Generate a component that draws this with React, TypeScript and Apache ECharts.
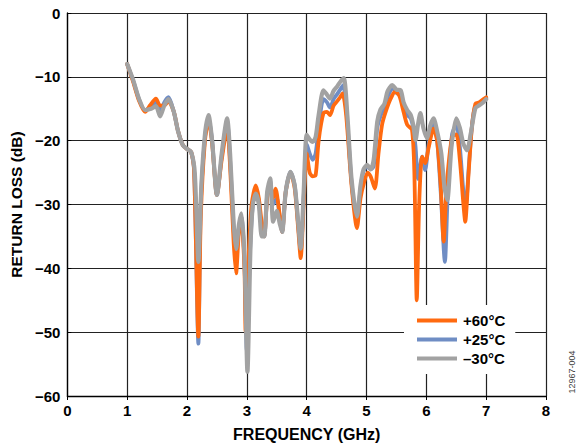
import React, { useEffect, useRef } from "react";
import * as echarts from "echarts";

const xTicks = [0, 1, 2, 3, 4, 5, 6, 7, 8];
const yTicks = [0, -10, -20, -30, -40, -50, -60];

const seriesNames = ["+60°C", "+25°C", "–30°C"];

const freq60 = [1.0, 1.1, 1.2, 1.3, 1.38, 1.48, 1.55, 1.62, 1.69, 1.78, 1.85, 1.93, 2.0, 2.07, 2.12, 2.19, 2.23, 2.3, 2.36, 2.42, 2.5, 2.58, 2.67, 2.72, 2.78, 2.82, 2.87, 2.91, 2.96, 2.98, 3.03, 3.08, 3.15, 3.2, 3.25, 3.29, 3.34, 3.39, 3.44, 3.48, 3.54, 3.59, 3.65, 3.73, 3.8, 3.86, 3.9, 3.95, 4.0, 4.05, 4.1, 4.15, 4.2, 4.28, 4.34, 4.39, 4.45, 4.51, 4.56, 4.6, 4.66, 4.75, 4.84, 4.9, 4.96, 5.02, 5.07, 5.14, 5.2, 5.26, 5.32, 5.4, 5.48, 5.55, 5.62, 5.68, 5.76, 5.8, 5.84, 5.88, 5.93, 5.98, 6.04, 6.12, 6.18, 6.24, 6.29, 6.34, 6.43, 6.5, 6.56, 6.62, 6.65, 6.7, 6.76, 6.82, 6.88, 6.95, 7.0];
const rl60 = [-8, -10.8, -13.8, -15.5, -14.5, -13.4, -14.5, -14.5, -13.8, -15.5, -18.5, -20.7, -21.3, -21.8, -25, -50.7, -32, -20, -16.8, -20.5, -28.5, -23, -18, -24, -36, -40.8, -34, -33, -40, -49.9, -38, -30, -27, -29, -33, -35, -29, -27, -29, -27.5, -31, -34.3, -28, -25, -27.5, -34, -38.4, -30, -22, -25, -25.6, -25.4, -20, -15.7, -15.5, -16, -14.5, -13.8, -13.2, -12.6, -16, -27, -33.7, -29, -26.5, -25, -25.6, -27.5, -22, -17.5, -15.5, -13.5, -12.3, -13, -15.5, -17.5, -18.3, -25, -45, -30, -22.5, -23.5, -21, -18.1, -20, -27, -35.8, -27, -19.4, -19, -23, -30, -32.7, -26, -18, -14.2, -14, -13.5, -13.2];

const freq25 = [1.0, 1.1, 1.2, 1.3, 1.4, 1.48, 1.55, 1.62, 1.69, 1.78, 1.85, 1.93, 2.0, 2.07, 2.12, 2.19, 2.23, 2.3, 2.36, 2.42, 2.5, 2.58, 2.67, 2.72, 2.78, 2.82, 2.87, 2.91, 2.96, 3.0, 3.05, 3.1, 3.15, 3.2, 3.25, 3.29, 3.34, 3.39, 3.44, 3.5, 3.55, 3.59, 3.65, 3.73, 3.8, 3.86, 3.9, 3.95, 4.0, 4.05, 4.1, 4.15, 4.2, 4.28, 4.34, 4.39, 4.45, 4.51, 4.56, 4.61, 4.67, 4.75, 4.84, 4.9, 4.95, 5.01, 5.07, 5.12, 5.18, 5.24, 5.3, 5.36, 5.44, 5.5, 5.57, 5.62, 5.68, 5.74, 5.78, 5.82, 5.86, 5.93, 5.98, 6.04, 6.12, 6.18, 6.24, 6.31, 6.36, 6.43, 6.5, 6.56, 6.62, 6.66, 6.71, 6.77, 6.82, 6.88, 6.95, 7.0];
const rl25 = [-8, -10.6, -13.6, -15.3, -14.6, -14, -15.5, -14, -13.2, -15.5, -18.5, -20.7, -21.3, -21.8, -25, -51.8, -30, -19.5, -16.3, -20, -28.5, -22.5, -17, -23, -34, -38.5, -33.5, -32, -39, -53, -38, -30, -27.8, -29.5, -34, -35, -28.5, -26.3, -30, -29, -32, -34.3, -28, -24.9, -27, -33.5, -37.5, -29, -20.5, -22, -23, -22, -18, -13.5, -14, -14.8, -13.5, -12.7, -12, -11.3, -16, -26.5, -32.8, -27.5, -24.8, -24, -24.5, -24, -18, -16, -14.8, -13, -11.8, -12.5, -13, -15, -16, -16.5, -18, -21, -26, -22.5, -24.6, -20.5, -17.3, -20, -28, -39, -28, -19, -17.5, -21, -28, -30, -24, -17, -14.5, -14.2, -13.7, -13.3];

const freqM30 = [1.0, 1.1, 1.2, 1.3, 1.4, 1.48, 1.55, 1.62, 1.69, 1.78, 1.85, 1.93, 2.0, 2.07, 2.13, 2.19, 2.24, 2.3, 2.36, 2.42, 2.5, 2.58, 2.67, 2.72, 2.78, 2.82, 2.87, 2.91, 2.96, 3.01, 3.06, 3.1, 3.15, 3.2, 3.25, 3.29, 3.34, 3.39, 3.44, 3.5, 3.55, 3.59, 3.65, 3.73, 3.8, 3.86, 3.9, 3.95, 4.0, 4.05, 4.1, 4.15, 4.2, 4.28, 4.34, 4.39, 4.45, 4.51, 4.56, 4.62, 4.68, 4.75, 4.84, 4.9, 4.95, 5.01, 5.07, 5.12, 5.18, 5.23, 5.3, 5.35, 5.43, 5.5, 5.57, 5.62, 5.68, 5.74, 5.78, 5.82, 5.86, 5.9, 5.95, 6.01, 6.07, 6.12, 6.18, 6.25, 6.3, 6.35, 6.42, 6.5, 6.56, 6.62, 6.68, 6.74, 6.82, 6.88, 6.95, 7.0];
const rlM30 = [-8, -10.5, -13.5, -15.2, -15, -14.6, -16.2, -14.5, -13.5, -15.5, -18.5, -20.7, -21.3, -21.8, -25, -39, -27, -19, -16, -20, -28.5, -22, -16.5, -22, -33, -37, -33, -31.4, -38, -56.2, -37, -30, -28.3, -30, -35, -35, -28, -25.9, -32.7, -31, -33, -34.3, -28, -24.9, -27, -33, -36.9, -28, -19.1, -19.8, -20.2, -19.4, -16, -12.1, -12.8, -13.4, -12.2, -11.5, -10.8, -10.2, -16, -26, -31.9, -27, -24.5, -23.8, -24.5, -23, -17, -15.2, -14.2, -12.3, -11.3, -12, -12.1, -14, -15.2, -16, -17.5, -19.9, -17.5, -15.7, -18, -19.6, -17.5, -16.5, -18.5, -22, -27, -29.3, -21, -16.5, -18, -20.5, -21.5, -19, -14.9, -14.5, -14, -13.5];

const colors = ["#FF6A10", "#6F8DC4", "#A2A2A2"];

const pair = (f: number[], v: number[]) => f.map((x, i) => [x, v[i]]);
const fmtMinus = (v: number) => (v < 0 ? "\u2212" + Math.abs(v) : String(v));

export default function App() {
  const ref = useRef<HTMLDivElement>(null);
  useEffect(() => {
    if (!ref.current) return;
    const chart = echarts.init(ref.current, null, { renderer: "svg" });
    const font = "Arial, 'Liberation Sans', Helvetica, sans-serif";
    const mk = (name: string, f: number[], v: number[], color: string, w: number, z: number) => ({
      name,
      type: "line",
      data: pair(f, v),
      showSymbol: false,
      symbol: "none",
      smooth: 0.25,
      z,
      lineStyle: { color, width: w, cap: "round", join: "round" },
      itemStyle: { color },
    });
    chart.setOption({
      animation: false,
      backgroundColor: "#ffffff",
      textStyle: { fontFamily: font },
      grid: { left: 66, right: 36, top: 13, bottom: 51, containLabel: false },
      xAxis: {
        type: "value",
        min: xTicks[0],
        max: xTicks[xTicks.length - 1],
        interval: 1,
        name: "FREQUENCY (GHz)",
        nameLocation: "middle",
        nameGap: 30,
        nameTextStyle: { fontWeight: "bold", fontSize: 16, color: "#000", fontFamily: font },
        axisLine: { show: true, onZero: false, lineStyle: { color: "#000", width: 1.3 } },
        axisTick: { show: true, length: 4, lineStyle: { color: "#000" } },
        axisLabel: { fontWeight: "bold", fontSize: 15, color: "#000", margin: 7, fontFamily: font },
        splitLine: { show: true, lineStyle: { color: "#222", width: 1.2 } },
      },
      yAxis: {
        type: "value",
        min: yTicks[yTicks.length - 1],
        max: yTicks[0],
        interval: 10,
        name: "RETURN LOSS (dB)",
        nameLocation: "middle",
        nameGap: 40,
        nameTextStyle: { fontWeight: "bold", fontSize: 15.5, color: "#000", fontFamily: font },
        axisLine: { show: true, onZero: false, lineStyle: { color: "#000", width: 1.3 } },
        axisTick: { show: true, inside: true, length: 4, lineStyle: { color: "#000" } },
        axisLabel: { fontWeight: "bold", fontSize: 15, color: "#000", margin: 7, formatter: fmtMinus, fontFamily: font },
        splitLine: { show: true, lineStyle: { color: "#222", width: 1.2 } },
      },
      legend: {
        data: seriesNames,
        left: 404,
        top: 305,
        orient: "vertical",
        icon: "rect",
        itemWidth: 40,
        itemHeight: 4,
        itemGap: 2,
        padding: [7, 10, 7, 13],
        backgroundColor: "#ffffff",
        selectedMode: false,
        textStyle: { fontWeight: "bold", fontSize: 15, color: "#000", lineHeight: 17, fontFamily: font, padding: [0, 0, 0, 1] },
        z: 10,
      },
      graphic: [
        {
          type: "text",
          x: 572,
          y: 372,
          rotation: Math.PI / 2,
          style: { text: "12967-004", fontSize: 9, fill: "#444", fontFamily: font, textAlign: "center", textVerticalAlign: "middle" },
        },
      ],
      series: [
        mk(seriesNames[1], freq25, rl25, colors[1], 3.8, 2),
        mk(seriesNames[0], freq60, rl60, colors[0], 3.8, 3),
        mk(seriesNames[2], freqM30, rlM30, colors[2], 4.2, 4),
      ],
    });
    return () => chart.dispose();
  }, []);
  return <div ref={ref} style={{ width: 582, height: 447, position: "absolute", left: 0, top: 0 }} />;
}
